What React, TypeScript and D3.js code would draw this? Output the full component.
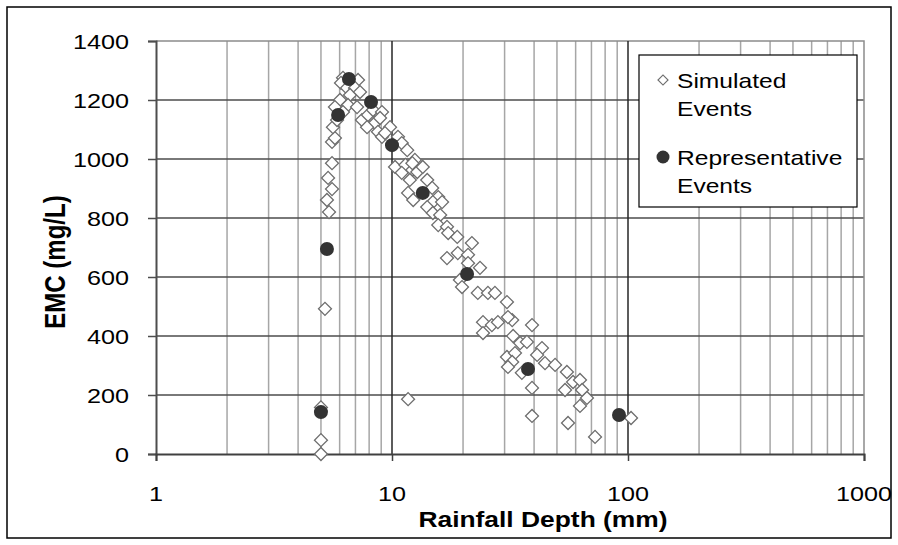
import React, { useEffect, useRef } from "react";
import * as d3 from "d3";

// Simulated events: [rainfall depth (mm), EMC (mg/L)]
const simulated: [number, number][] = [
  [5.0, 0], [5.0, 47], [5.0, 158], [5.2, 492], [5.41, 820], [5.3, 861],
  [5.57, 898], [5.36, 936], [5.57, 986], [5.57, 1058], [5.73, 1071],
  [5.62, 1108], [5.85, 1132],
  [6.2, 1275], [6.08, 1258], [6.83, 1261], [7.18, 1268], [6.45, 1241],
  [6.97, 1241], [6.64, 1217], [7.32, 1227], [6.02, 1200], [5.73, 1176],
  [6.51, 1183], [7.11, 1176], [6.2, 1159], [7.46, 1132], [7.91, 1149],
  [8.47, 1122], [8.72, 1092], [9.07, 1075], [7.84, 1108], [8.31, 1166],
  [9.07, 1159], [8.9, 1139], [9.81, 1108], [9.34, 1088], [10.6, 1075],
  [11.0, 1054], [11.6, 1030], [10.3, 973], [11.4, 980], [12.2, 963],
  [12.5, 997], [11.0, 953], [12.2, 986], [12.8, 956], [13.5, 973],
  [11.9, 929], [14.1, 929], [11.7, 885], [12.3, 861], [14.8, 902],
  [15.7, 871], [14.9, 854], [16.3, 854], [14.1, 837], [14.9, 817],
  [16.0, 810], [15.7, 776], [17.1, 770], [17.3, 749], [18.9, 736],
  [21.8, 715], [19.0, 681], [21.0, 675], [17.1, 664], [21.0, 647],
  [23.6, 631], [19.4, 590], [19.8, 566], [23.1, 546], [25.5, 546],
  [27.3, 546], [30.7, 515], [24.3, 447], [26.5, 437], [28.1, 447],
  [32.3, 454], [31.0, 464], [39.2, 437], [24.3, 410], [32.6, 400],
  [34.9, 376], [37.3, 380], [43.2, 359], [30.7, 329], [33.2, 342],
  [32.3, 312], [31.0, 295], [35.5, 275], [41.2, 336], [44.5, 308],
  [49.1, 302], [55.1, 278], [58.5, 244], [62.6, 251], [54.1, 217],
  [63.9, 217], [67.0, 190], [62.6, 163], [39.2, 224], [39.2, 129],
  [55.7, 105], [72.5, 58], [103, 122], [11.7, 186],
];

// Representative events
const representative: [number, number][] = [
  [5.0, 142], [5.3, 695], [5.91, 1149], [6.57, 1271], [8.15, 1193],
  [10.0, 1047], [13.5, 885], [20.8, 610], [37.7, 288], [91.6, 132],
];

const xTicks = [1, 10, 100, 1000];
const yTicks = [0, 200, 400, 600, 800, 1000, 1200, 1400];
const legendItems = [
  { kind: "diamond", lines: ["Simulated", "Events"] },
  { kind: "circle", lines: ["Representative", "Events"] },
];

const FONT = "'Liberation Sans', Arial, sans-serif";

function App() {
  const svgRef = useRef<SVGSVGElement>(null);

  useEffect(() => {
    const width = 898;
    const height = 545;
    const margin = { top: 41, right: 34, bottom: 91, left: 156 };

    d3.select(svgRef.current).selectAll("*").remove();
    const svg = d3
      .select(svgRef.current)
      .attr("width", width)
      .attr("height", height);

    svg.append("rect").attr("width", width).attr("height", height).attr("fill", "#fff");

    // outer frame
    svg
      .append("rect")
      .attr("x", 7)
      .attr("y", 7)
      .attr("width", 884)
      .attr("height", 531)
      .attr("fill", "none")
      .attr("stroke", "#000")
      .attr("stroke-width", 1.5);

    const xScale = d3
      .scaleLog()
      .domain([1, 1000])
      .range([margin.left, width - margin.right]);
    const yScale = d3
      .scaleLinear()
      .domain([0, 1400])
      .range([height - margin.bottom, margin.top]);

    const [x0, x1] = xScale.range();
    const [y0, y1] = yScale.range();

    // minor vertical grid
    const minor: number[] = [];
    for (let k = 0; k < 3; k++) {
      for (let m = 2; m <= 9; m++) minor.push(m * Math.pow(10, k));
    }
    svg
      .append("g")
      .selectAll("line")
      .data(minor)
      .join("line")
      .attr("x1", (d) => xScale(d))
      .attr("x2", (d) => xScale(d))
      .attr("y1", y1)
      .attr("y2", y0)
      .attr("stroke", "#a6a6a6")
      .attr("stroke-width", 1.5);

    // major horizontal grid
    svg
      .append("g")
      .selectAll("line")
      .data(yTicks.filter((d) => d > 0 && d < 1400))
      .join("line")
      .attr("x1", x0)
      .attr("x2", x1)
      .attr("y1", (d) => yScale(d))
      .attr("y2", (d) => yScale(d))
      .attr("stroke", "#4d4d4d")
      .attr("stroke-width", 1.5);

    // top and right border
    svg
      .append("path")
      .attr("d", `M${x0},${y1}H${x1}V${y0}`)
      .attr("fill", "none")
      .attr("stroke", "#8c8c8c")
      .attr("stroke-width", 1.5);

    // major vertical grid
    svg
      .append("g")
      .selectAll("line")
      .data([10, 100])
      .join("line")
      .attr("x1", (d) => xScale(d))
      .attr("x2", (d) => xScale(d))
      .attr("y1", y1)
      .attr("y2", y0)
      .attr("stroke", "#262626")
      .attr("stroke-width", 1.5);

    // y axis
    const yAxis = svg
      .append("g")
      .attr("transform", `translate(${x0},0)`)
      .call(d3.axisLeft(yScale).tickValues(yTicks).tickSize(8).tickFormat(() => ""));
    yAxis.select(".domain").attr("stroke", "#4d4d4d").attr("stroke-width", 2);
    yAxis.selectAll(".tick line").attr("stroke", "#4d4d4d").attr("stroke-width", 1.5);

    // x axis
    const xAxis = svg
      .append("g")
      .attr("transform", `translate(0,${y0})`)
      .call(d3.axisBottom(xScale).tickValues(xTicks).tickSize(7).tickFormat(() => ""));
    xAxis.select(".domain").attr("stroke", "#404040").attr("stroke-width", 2);
    xAxis.selectAll(".tick line").attr("stroke", "#404040").attr("stroke-width", 1.5);

    // tick labels (stretched horizontally like the original)
    svg
      .append("g")
      .selectAll("text")
      .data(yTicks)
      .join("text")
      .attr("transform", (d) => `translate(129,${yScale(d) + 7.5}) scale(1.2,1)`)
      .attr("text-anchor", "end")
      .style("font-family", FONT)
      .style("font-size", "21px")
      .attr("fill", "#000")
      .text((d) => d);

    svg
      .append("g")
      .selectAll("text")
      .data(xTicks)
      .join("text")
      .attr("transform", (d) => `translate(${xScale(d)},501) scale(1.2,1)`)
      .attr("text-anchor", "middle")
      .style("font-family", FONT)
      .style("font-size", "21px")
      .attr("fill", "#000")
      .text((d) => d);

    // axis titles
    svg
      .append("text")
      .attr("transform", "translate(543,527) scale(1.2,1)")
      .attr("text-anchor", "middle")
      .style("font-family", FONT)
      .style("font-size", "22px")
      .style("font-weight", "bold")
      .text("Rainfall Depth (mm)");

    svg
      .append("text")
      .attr("transform", "translate(65,262) rotate(-90) scale(1,1.2)")
      .attr("text-anchor", "middle")
      .style("font-family", FONT)
      .style("font-size", "24px")
      .style("font-weight", "bold")
      .text("EMC (mg/L)");

    const diamond = d3.symbol().type(d3.symbolSquare).size(84);

    // simulated events
    svg
      .append("g")
      .selectAll("path")
      .data(simulated)
      .join("path")
      .attr("d", diamond)
      .attr(
        "transform",
        (d) => `translate(${xScale(d[0])},${yScale(d[1])}) rotate(45)`
      )
      .attr("fill", "#fff")
      .attr("stroke", "#6e6e6e")
      .attr("stroke-width", 1.3);

    // representative events
    svg
      .append("g")
      .selectAll("circle")
      .data(representative)
      .join("circle")
      .attr("cx", (d) => xScale(d[0]))
      .attr("cy", (d) => yScale(d[1]))
      .attr("r", 7)
      .attr("fill", "#333");

    // legend
    const legend = svg.append("g").attr("transform", "translate(639,55)");
    legend
      .append("rect")
      .attr("width", 218)
      .attr("height", 152)
      .attr("fill", "#fff")
      .attr("stroke", "#000")
      .attr("stroke-width", 1.2);

    legendItems.forEach((item, i) => {
      const top = i * 77;
      if (item.kind === "diamond") {
        legend
          .append("path")
          .attr("d", d3.symbol().type(d3.symbolSquare).size(50)())
          .attr("transform", `translate(24,${top + 25}) rotate(45)`)
          .attr("fill", "#fff")
          .attr("stroke", "#6e6e6e")
          .attr("stroke-width", 1.2);
      } else {
        legend
          .append("circle")
          .attr("cx", 24)
          .attr("cy", top + 25)
          .attr("r", 6.5)
          .attr("fill", "#333");
      }
      item.lines.forEach((line, j) => {
        legend
          .append("text")
          .attr("transform", `translate(38,${top + 33 + j * 28}) scale(1.2,1)`)
          .style("font-family", FONT)
          .style("font-size", "20.5px")
          .attr("fill", "#000")
          .text(line);
      });
    });
  }, []);

  return (
    <svg
      ref={svgRef}
      style={{ position: "absolute", left: 0, top: 0, display: "block" }}
    ></svg>
  );
}

export default App;
